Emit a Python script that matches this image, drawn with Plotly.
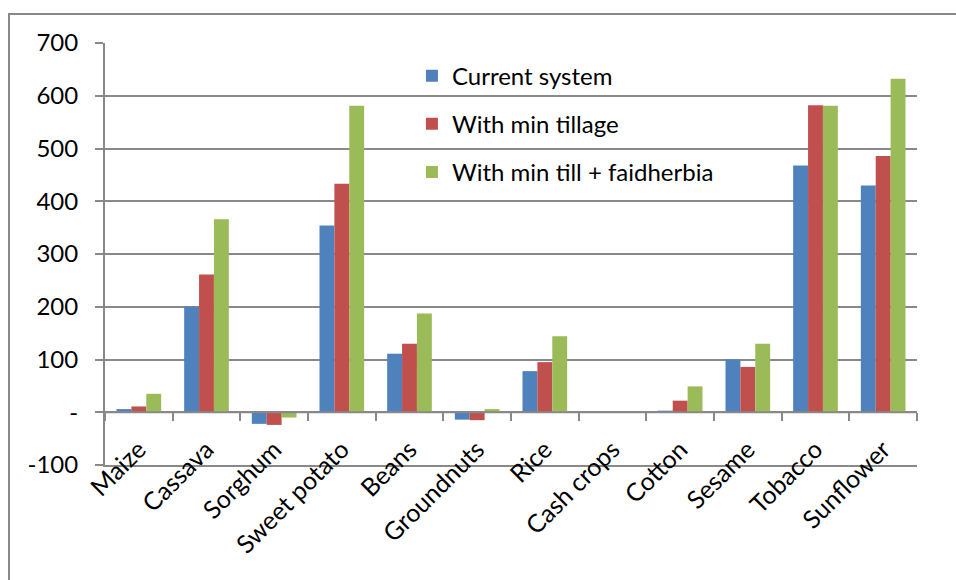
import plotly.graph_objects as go

# Crop categories and scenario results
crops = ["Maize", "Cassava", "Sorghum", "Sweet potato", "Beans", "Groundnuts",
         "Rice", "Cash crops", "Cotton", "Sesame", "Tobacco", "Sunflower"]
current_system = [6, 200, -22, 354, 111, -14, 78, 0, 3, 100, 468, 430]
with_min_tillage = [11, 261, -24, 433, 130, -15, 95, 0, 22, 86, 582, 486]
with_min_till_faidherbia = [35, 366, -10, 581, 187, 6, 144, 0, 49, 130, 581, 632]

series_names = ["Current system", "With min tillage", "With min till + faidherbia"]
series_colors = ["#4F81BD", "#C0504D", "#9BBB59"]

y_tickvals = [-100, 0, 100, 200, 300, 400, 500, 600, 700]
y_ticktext = ["-100", "-", "100", "200", "300", "400", "500", "600", "700"]
y_min, y_max = -100, 700

GRID = "#898989"
FONT = "Lato"
W, H = 956, 580
ML, MR, MT, MB = 105, 39, 43, 115

fig = go.Figure()
for name, vals, col in zip(series_names,
                           [current_system, with_min_tillage, with_min_till_faidherbia],
                           series_colors):
    fig.add_trace(go.Bar(x=crops, y=vals, name=name, marker_color=col,
                         marker_line_width=0, legendgroup=name))

# Horizontal category axis line at zero, with tick marks between categories
n = len(crops)
fig.add_trace(go.Scatter(x=[-0.5, n - 0.5], y=[0, 0], mode="lines",
                         line=dict(color=GRID, width=2), xaxis="x2",
                         showlegend=False, hoverinfo="skip"))

pw = W - ML - MR
ph = H - MT - MB
# Outer chart frame (right and bottom edges fall outside the page)
fig.add_shape(type="rect", xref="paper", yref="paper",
              x0=(9 - ML) / pw, x1=(W + 20 - ML) / pw,
              y0=-(H + 20 - MT - ph) / ph, y1=(MT + ph - 14) / ph,
              line=dict(color=GRID, width=2), fillcolor="rgba(0,0,0,0)", layer="below")

fig.update_layout(
    width=W, height=H,
    margin=dict(l=ML, r=MR, t=MT, b=MB, autoexpand=False),
    paper_bgcolor="white", plot_bgcolor="white",
    font=dict(family=FONT, size=24, color="black"),
    barmode="group", bargap=0.34, bargroupgap=0,
    showlegend=True,
    legend=dict(x=0.378, y=0.975, xanchor="left", yanchor="top",
                bgcolor="rgba(0,0,0,0)", font=dict(size=24),
                tracegroupgap=14, itemwidth=30),
    xaxis=dict(type="category", tickangle=-45, showgrid=False, ticks="",
               showline=True, linecolor=GRID, linewidth=2,
               zeroline=False, tickfont=dict(size=25),
               ticklabelstandoff=-42, automargin=False),
    xaxis2=dict(overlaying="x", anchor="free",
                position=(0 - y_min) / (y_max - y_min),
                range=[-0.5, n - 0.5],
                tickvals=[i - 0.5 for i in range(n + 1)],
                ticks="outside", ticklen=8, tickwidth=2, tickcolor=GRID,
                showticklabels=False, showgrid=False, zeroline=False, showline=False,
                automargin=False),
    yaxis=dict(range=[y_min, y_max], tickvals=y_tickvals, ticktext=y_ticktext,
               showgrid=True, gridcolor=GRID, gridwidth=1.5, zeroline=False,
               showline=True, linecolor=GRID, linewidth=2,
               ticks="outside", ticklen=8, tickwidth=2, tickcolor=GRID,
               tickfont=dict(size=24), ticklabelstandoff=12, automargin=False),
)

fig.write_html("out.html")
